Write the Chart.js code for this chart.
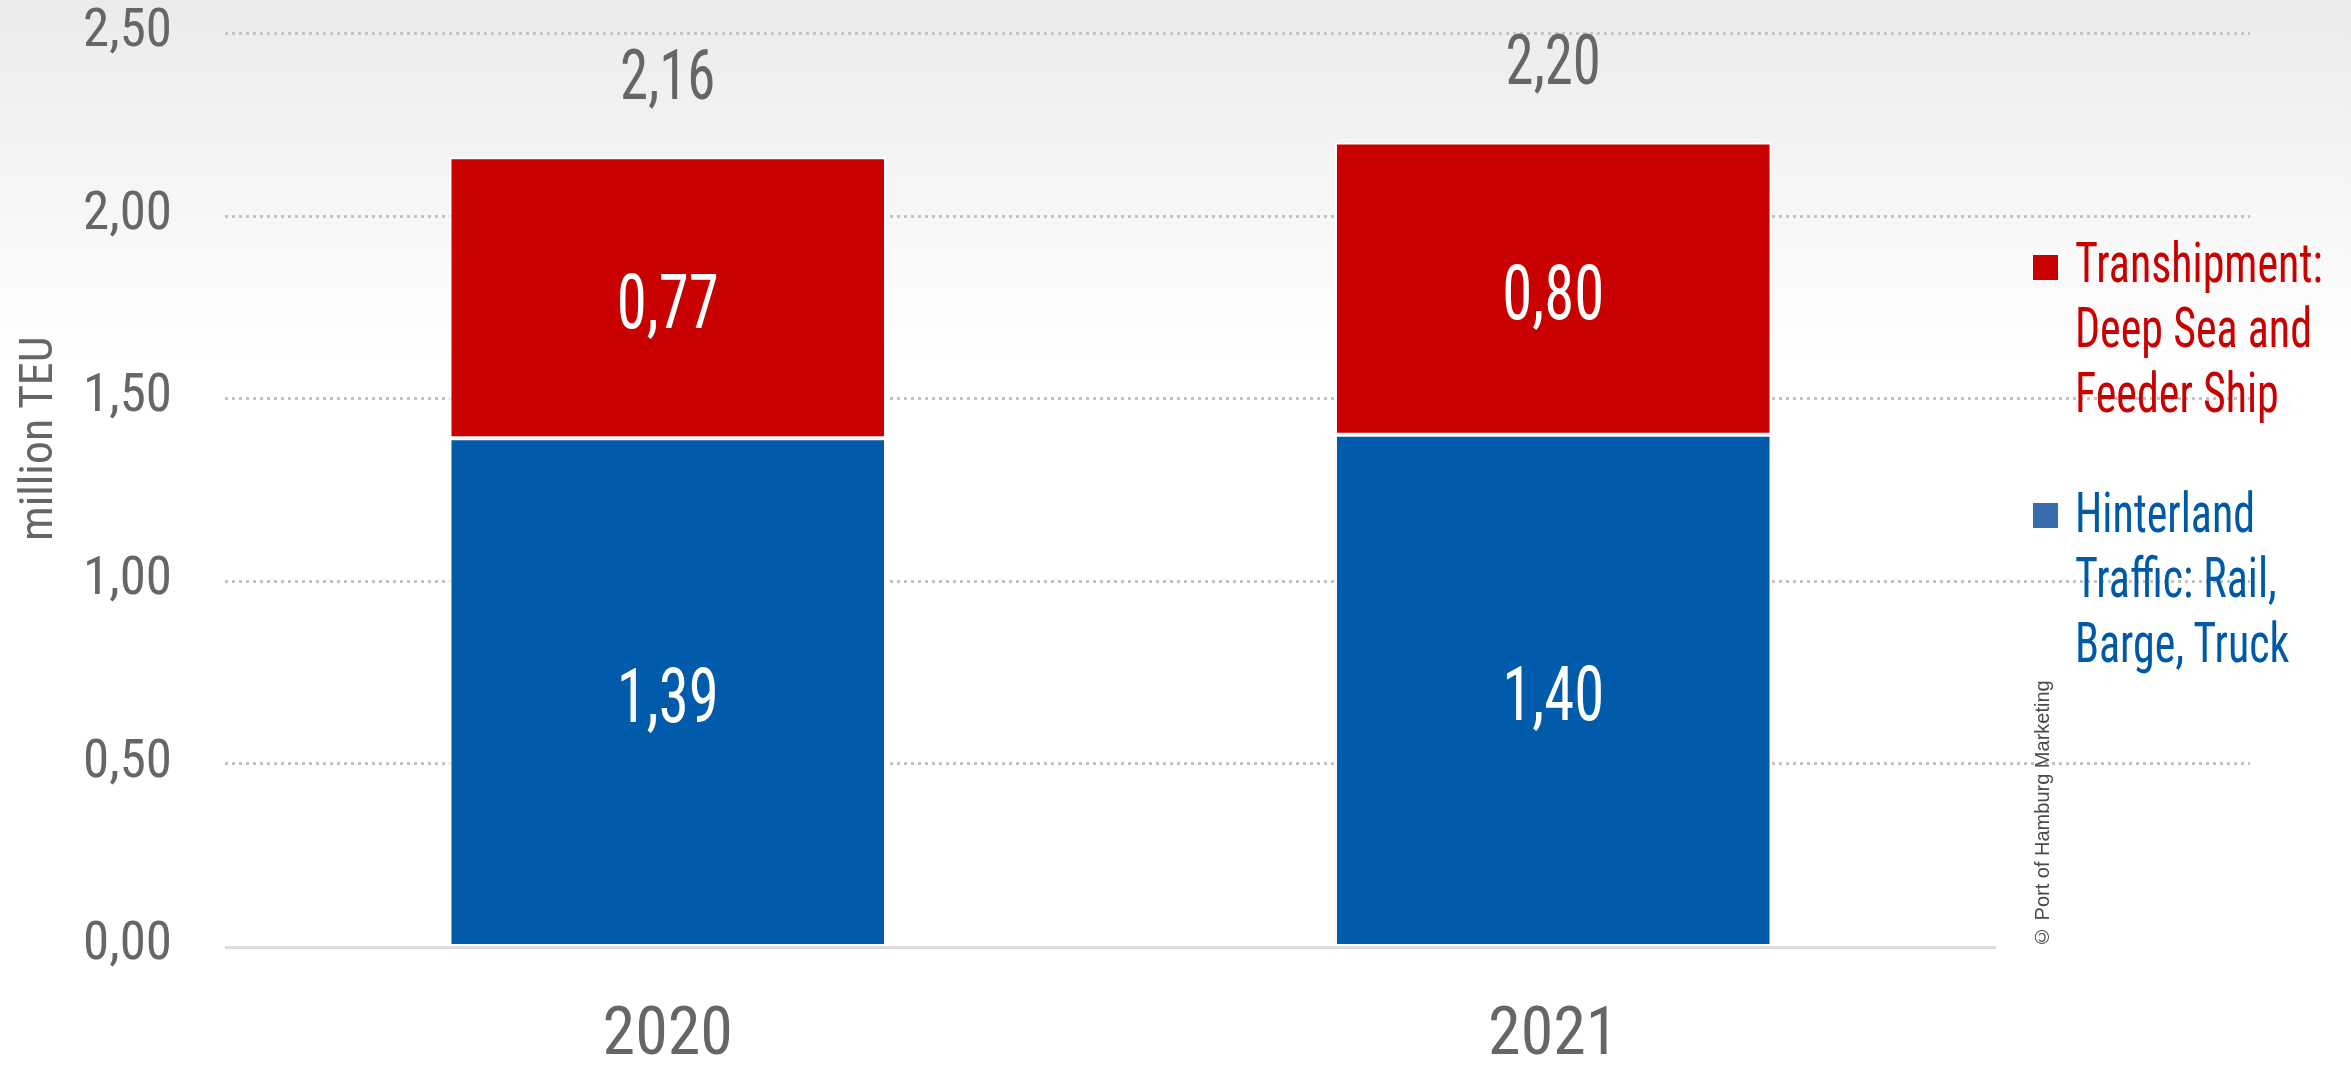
<!DOCTYPE html>
<html>
<head>
<meta charset="utf-8">
<script src="https://cdn.jsdelivr.net/npm/chart.js@4"></script>
<style>
  html, body { margin: 0; padding: 0; }
  body {
    width: 2351px; height: 1069px; overflow: hidden; position: relative;
    background: linear-gradient(to bottom, #ebebeb 0px, #ffffff 360px);
    font-family: "Roboto Condensed", Roboto, sans-serif;
  }
  #wrap { position: absolute; left: 0; top: 0; width: 2351px; height: 1069px; }
  .leg { position: absolute; left: 2033px; }
  .leg .box { position: absolute; left: 0; width: 25px; height: 25px; }
  .leg .txt {
    position: absolute; left: 42px; font-size: 55px; line-height: 65px; white-space: nowrap;
    transform: scaleX(0.8); transform-origin: 0 0;
  }
  .vert { position: absolute; writing-mode: vertical-rl; transform: rotate(180deg); white-space: nowrap; }
  #ytitle {
    left: 10px; top: 346px; height: 195px; line-height: 52px;
    font-size: 46px; color: #666; text-align: center;
  }
  #copy {
    left: 2031px; top: 682px; height: 266px;
    font: 20px "Liberation Sans", Arial, sans-serif; color: #4a4a4a;
  }
</style>
</head>
<body>
<div id="wrap"><canvas id="chart"></canvas></div>

<div class="vert" id="ytitle">million TEU</div>

<div class="leg" style="top:231px">
  <div class="box" style="top:24px;background:#c80000"></div>
  <div class="txt" style="color:#c80000">Transhipment:<br>Deep Sea and<br>Feeder Ship</div>
</div>
<div class="leg" style="top:481px">
  <div class="box" style="top:22px;background:#3a6db0"></div>
  <div class="txt" style="color:#0059a8">Hinterland<br>Traffic: Rail,<br>Barge, Truck</div>
</div>
<div class="vert" id="copy">© Port of Hamburg Marketing</div>

<script>
// ─── Daten ──────────────────────────────────────
const years        = ['2020', '2021'];
const hinterland   = [1.39, 1.40];
const transhipment = [0.77, 0.80];
const totals       = [2.16, 2.20];
const yTicks       = [0, 0.5, 1, 1.5, 2, 2.5];

const RED  = '#c80000';
const BLUE = '#005baa';
const GREY = '#666666';
const FONT = '"Roboto Condensed", Roboto, sans-serif';

const fmt = v => v.toFixed(2).replace('.', ',');

// grid lines: dotted ones run past the plot into the legend column, zero line solid
const gridPlugin = {
  id: 'gridLines',
  beforeDatasetsDraw(chart) {
    const { ctx, chartArea, scales: { y } } = chart;
    ctx.save();
    y.ticks.forEach(t => {
      const py = Math.round(y.getPixelForValue(t.value)) + 0.5;
      ctx.beginPath();
      if (t.value === 0) {
        ctx.setLineDash([]);
        ctx.strokeStyle = '#dcdcdc';
        ctx.lineWidth = 3;
        ctx.moveTo(chartArea.left, py + 1);
        ctx.lineTo(chartArea.right, py + 1);
      } else {
        ctx.setLineDash([3, 4]);
        ctx.strokeStyle = '#c4c4c4';
        ctx.lineWidth = 3;
        ctx.moveTo(chartArea.left, py);
        ctx.lineTo(chartArea.right + 254, py);
      }
      ctx.stroke();
    });
    ctx.restore();
  }
};

// narrow text: the original uses a tighter condensed face
function narrowText(ctx, txt, x, y, size, color) {
  ctx.save();
  ctx.translate(x, y);
  ctx.scale(0.8, 1);
  ctx.fillStyle = color;
  ctx.font = `${size}px ${FONT}`;
  ctx.fillText(txt, 0, 0);
  ctx.restore();
}

// values inside the segments and the sum above each column
const labelPlugin = {
  id: 'valueLabels',
  afterDatasetsDraw(chart) {
    const { ctx } = chart;
    ctx.save();
    ctx.textAlign = 'center';
    ctx.textBaseline = 'middle';
    chart.data.datasets.forEach((ds, di) => {
      const meta = chart.getDatasetMeta(di);
      meta.data.forEach((bar, i) => {
        narrowText(ctx, fmt(ds.data[i]), bar.x, (bar.y + bar.base) / 2 + 11, 76, '#fff');
      });
    });
    const top = chart.getDatasetMeta(chart.data.datasets.length - 1);
    top.data.forEach((bar, i) => {
      narrowText(ctx, fmt(totals[i]), bar.x, bar.y - 76, 71, GREY);
    });
    ctx.restore();
  }
};

new Chart(document.getElementById('chart'), {
  type: 'bar',
  data: {
    labels: years,
    datasets: [
      {
        label: 'Hinterland Traffic: Rail, Barge, Truck',
        data: hinterland,
        backgroundColor: BLUE,
        borderColor: '#fff', borderWidth: 2, borderSkipped: false,
      },
      {
        label: 'Transhipment: Deep Sea and Feeder Ship',
        data: transhipment,
        backgroundColor: RED,
        borderColor: '#fff', borderWidth: 2, borderSkipped: false,
      },
    ],
  },
  options: {
    responsive: true,
    maintainAspectRatio: false,
    animation: false,
    layout: { padding: { top: 33, right: 355, left: 0, bottom: 0 } },
    datasets: { bar: { categoryPercentage: 1, barPercentage: 0.493 } },
    plugins: {
      legend: { display: false },
      tooltip: { enabled: false },
    },
    scales: {
      x: {
        stacked: true,
        grid: { display: false, drawTicks: false },
        border: { display: false },
        ticks: { color: GREY, font: { family: FONT, size: 66 }, padding: 52 },
        afterFit: s => { s.height = 123; s.paddingLeft = 0; s.paddingRight = 0; },
      },
      y: {
        stacked: true,
        min: 0, max: 2.5,
        afterBuildTicks: s => { s.ticks = yTicks.map(v => ({ value: v })); },
        grid: { display: false, drawTicks: false },
        border: { display: false },
        ticks: { color: GREY, font: { family: FONT, size: 53 }, padding: 53, callback: v => fmt(v) },
        afterFit: s => { s.width = 225; s.paddingTop = 0; s.paddingBottom = 0; },
      },
    },
  },
  plugins: [gridPlugin, labelPlugin],
});
</script>
</body>
</html>
